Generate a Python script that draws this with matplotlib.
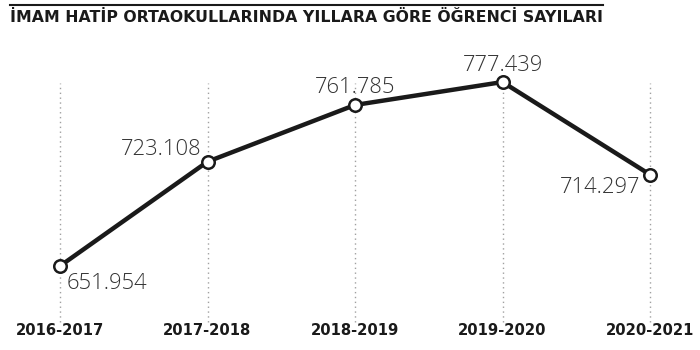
import matplotlib
matplotlib.use("Agg")
import matplotlib.pyplot as plt

# data
years = ["2016-2017", "2017-2018", "2018-2019", "2019-2020", "2020-2021"]
students = [651954, 723108, 761785, 777439, 714297]
value_labels = ["651.954", "723.108", "761.785", "777.439", "714.297"]
title = "İMAM HATİP ORTAOKULLARINDA YILLARA GÖRE ÖĞRENCİ SAYILARI"

# label placement: (dx px, dy px, ha)
offsets = [(7, -17, "left"), (-6, 12, "right"), (0, 17, "center"), (0, 17, "center"), (-10, -13, "right")]

fig = plt.figure(figsize=(7, 3.5), dpi=100)
ax = fig.add_axes([60 / 700, 28 / 350, 590 / 700, 252 / 350])
ax.set_xlim(0, 4)
ax.set_ylim(613755, 785651)
ax.axis("off")

x = list(range(len(years)))
top_val = 776783
for xi in x:
    ax.plot([xi, xi], [613755, top_val], color="#a0a0a0", lw=1.0,
            linestyle=(0, (1, 2.5)), zorder=1, clip_on=False)

ax.plot(x, students, color="#1a1a1a", lw=3.2, zorder=2, clip_on=False,
        marker="o", markersize=9, markerfacecolor="white",
        markeredgecolor="#1a1a1a", markeredgewidth=1.8)

for xi, v, lab, (dx, dy, ha) in zip(x, students, value_labels, offsets):
    ax.annotate(lab, (xi, v), xytext=(dx * 0.72, dy * 0.72), textcoords="offset points",
                ha=ha, va="center", fontsize=15.8, color="#333333",
                family="Open Sans", fontweight="light")

for xi, yr in zip(x, years):
    ax.annotate(yr, (xi, 613755), xytext=(0, -6), textcoords="offset points",
                ha="center", va="center", fontsize=10.6, color="#1a1a1a",
                family="DejaVu Sans", fontweight="bold", annotation_clip=False)

fig.add_artist(plt.Line2D([10 / 700, 603 / 700], [1 - 5 / 350, 1 - 5 / 350],
                          color="#1a1a1a", lw=1.5))
fig.text(10 / 700, 1 - 17 / 350, title, ha="left", va="center", fontsize=11.3,
         color="#1a1a1a", family="DejaVu Sans", fontweight="bold")

fig.savefig("out.png", dpi=100, facecolor="white")
